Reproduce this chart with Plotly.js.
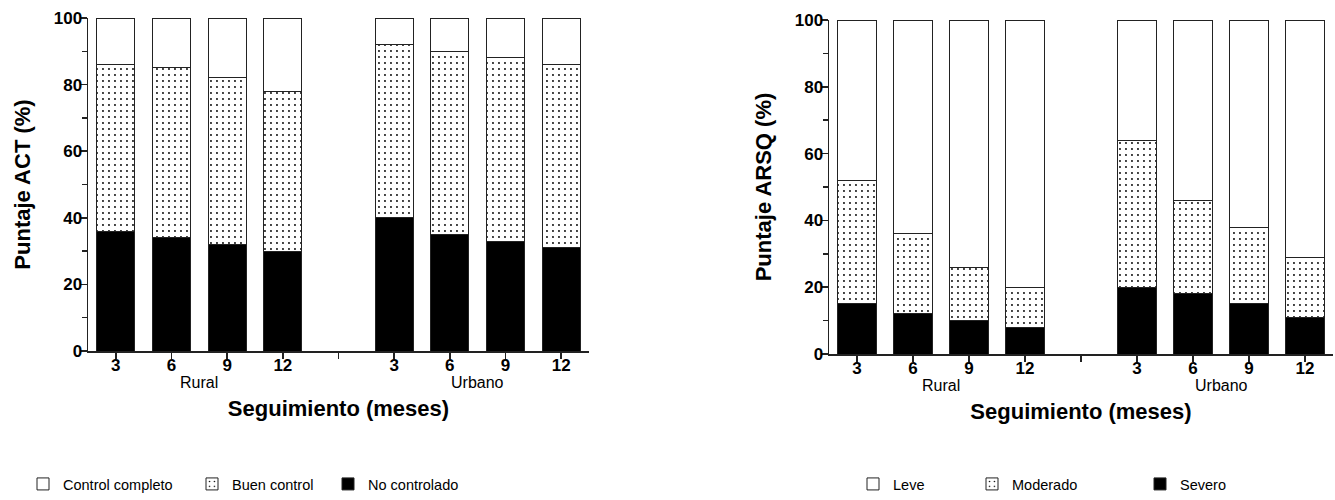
<!DOCTYPE html>
<html>
<head>
<meta charset="utf-8">
<script src="https://cdn.plot.ly/plotly-3.0.1.min.js"></script>
<style>html,body{margin:0;padding:0;background:#fff;}#chart{width:1335px;height:500px;}</style>
</head>
<body>
<div id="chart"></div>
<script>
// ---- data ----
const months = ['3', '6', '9', '12'];
const groups = ['Rural', 'Urbano'];

// Left chart: ACT score (%) — order: Rural 3,6,9,12 then Urbano 3,6,9,12
const actNoControlado = [36, 34, 32, 30, 40, 35, 33, 31];
const actBuenControl  = [50, 51, 50, 48, 52, 55, 55, 55];
const actCompleto     = [14, 15, 18, 22,  8, 10, 12, 14];

// Right chart: ARSQ score (%)
const arsqSevero   = [15, 12, 10,  8, 20, 18, 15, 11];
const arsqModerado = [37, 24, 16, 12, 44, 28, 23, 18];
const arsqLeve     = [48, 64, 74, 80, 36, 54, 62, 71];

const actNames  = ['No controlado', 'Buen control', 'Control completo'];
const arsqNames = ['Severo', 'Moderado', 'Leve'];
const yTicks = [0, 20, 40, 60, 80, 100];

// ---- positions: one empty slot between groups ----
const slot = months.length + 1;
const xPos = [];
const tickVals = [];
const tickText = [];
groups.forEach((g, gi) => {
  months.forEach((m, mi) => { xPos.push(gi * slot + mi); });
});
for (let i = 0; i < groups.length * slot - 1; i++) {
  tickVals.push(i);
  const mi = i % slot;
  tickText.push(mi < months.length ? months[mi] : '');
}
const groupCenters = groups.map((g, gi) => gi * slot + (months.length - 1) / 2);

const FONT = 'Arial, "Liberation Sans", sans-serif';
const LINE = '#222';

const styles = [
  {color: '#000000', pattern: {shape: ''}},
  {color: '#ffffff', pattern: {shape: '.', fgcolor: '#000000', bgcolor: '#ffffff', size: 6, solidity: 0.08}},
  {color: '#ffffff', pattern: {shape: ''}}
];

function makeTraces(seriesList, names, xa, ya, legendId, widths) {
  return seriesList.map((vals, k) => ({
    type: 'bar',
    x: xPos,
    y: vals,
    name: names[k],
    xaxis: xa,
    yaxis: ya,
    legend: legendId,
    legendwidth: widths[k],
    width: 0.68,
    marker: {
      color: styles[k].color,
      pattern: styles[k].pattern,
      line: {color: LINE, width: 1}
    },
    hoverinfo: 'skip'
  }));
}

const traces = [].concat(
  makeTraces([actNoControlado, actBuenControl, actCompleto], actNames, 'x', 'y', 'legend', [120, 91, 124]),
  makeTraces([arsqSevero, arsqModerado, arsqLeve], arsqNames, 'x2', 'y2', 'legend2', [80, 123, 74])
);

function xAxis(domain, anchor) {
  return {
    domain: domain, anchor: anchor,
    range: [-0.5, groups.length * slot - 1.5],
    tickmode: 'array', tickvals: tickVals, ticktext: tickText,
    ticks: 'outside', ticklen: 6, tickwidth: 1.5, tickcolor: LINE,
    ticklabelstandoff: -8,
    showline: true, linecolor: LINE, linewidth: 1.5,
    showgrid: false, zeroline: false,
    tickfont: {family: FONT, size: 17, color: '#000', weight: 'bold'},
    title: {text: 'Seguimiento (meses)', standoff: 26,
            font: {family: FONT, size: 22, color: '#000', weight: 'bold'}}
  };
}
function yAxis(domain, anchor, title) {
  return {
    domain: domain, anchor: anchor,
    range: [0, 100],
    tickmode: 'array', tickvals: yTicks,
    ticks: 'outside', ticklen: 7, tickwidth: 1.5, tickcolor: LINE,
    ticklabelstandoff: -6,
    minor: {dtick: 10, tick0: 0, ticks: 'outside', ticklen: 5, tickwidth: 1.5, tickcolor: LINE, showgrid: false},
    showline: true, linecolor: LINE, linewidth: 1.5,
    showgrid: false, zeroline: false,
    tickfont: {family: FONT, size: 17, color: '#000', weight: 'bold'},
    title: {text: title, standoff: 17,
            font: {family: FONT, size: 22, color: '#000', weight: 'bold'}}
  };
}

const W = 1335, H = 500;
const layout = {
  width: W, height: H,
  margin: {l: 0, r: 0, t: 0, b: 0},
  paper_bgcolor: '#fff', plot_bgcolor: '#fff',
  barmode: 'stack',
  font: {family: FONT, color: '#000'},
  xaxis: xAxis([88 / W, 589 / W], 'y'),
  yaxis: yAxis([1 - 351 / H, 1 - 18 / H], 'x', 'Puntaje ACT (%)'),
  xaxis2: xAxis([829 / W, 1333 / W], 'y2'),
  yaxis2: yAxis([1 - 354 / H, 1 - 20 / H], 'x2', 'Puntaje ARSQ (%)'),
  legend: {orientation: 'h', x: 23 / W, xanchor: 'left', y: 1 - 484 / H, yanchor: 'middle',
           traceorder: 'reversed', font: {family: FONT, size: 14.5, color: '#000'}, bgcolor: 'rgba(0,0,0,0)'},
  legend2: {orientation: 'h', x: 853 / W, xanchor: 'left', y: 1 - 484 / H, yanchor: 'middle',
           traceorder: 'reversed', font: {family: FONT, size: 14.5, color: '#000'}, bgcolor: 'rgba(0,0,0,0)'},
  annotations: [].concat(
    groups.map((g, gi) => ({text: g, x: groupCenters[gi], xref: 'x', y: 1 - 382 / H, yref: 'paper',
      yanchor: 'middle', showarrow: false, font: {family: FONT, size: 16, color: '#000'}})),
    groups.map((g, gi) => ({text: g, x: groupCenters[gi], xref: 'x2', y: 1 - 385 / H, yref: 'paper',
      yanchor: 'middle', showarrow: false, font: {family: FONT, size: 16, color: '#000'}}))
  ),
  showlegend: true
};

Plotly.newPlot('chart', traces, layout, {displayModeBar: false, staticPlot: true});
</script>
</body>
</html>
